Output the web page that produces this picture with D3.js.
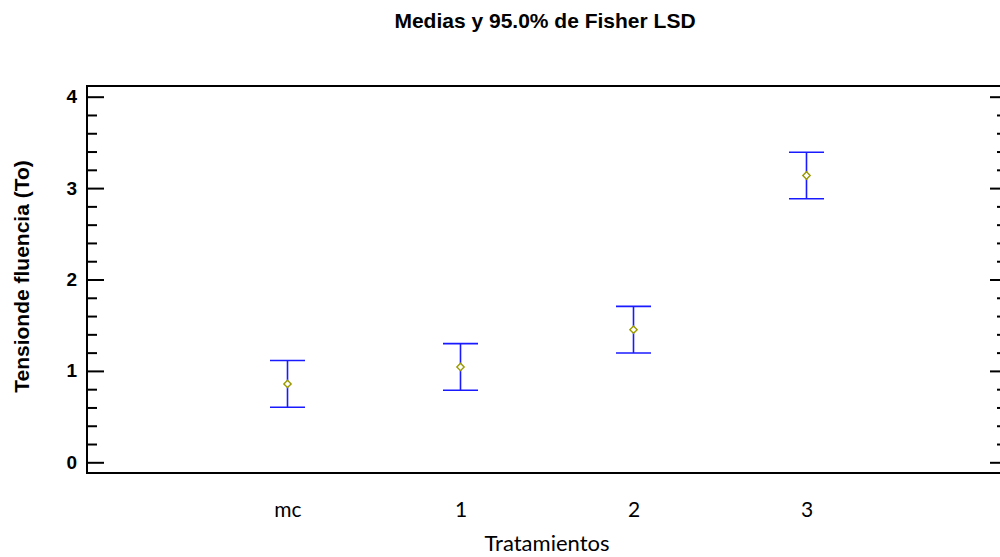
<!DOCTYPE html>
<html>
<head>
<meta charset="utf-8">
<script src="https://cdn.jsdelivr.net/npm/d3@7"></script>
<style>
  html, body { margin: 0; padding: 0; background: #fff; }
  svg { display: block; }
</style>
</head>
<body>
<svg id="chart" width="1000" height="557"></svg>
<script>
// ---- data ----
const categories = ["mc", "1", "2", "3"];
const means = [0.858, 1.043, 1.451, 3.138];
const lower = [0.603, 0.788, 1.196, 2.883];
const upper = [1.113, 1.298, 1.706, 3.393];
const yMajorTicks = [0, 1, 2, 3, 4];
const yMinorTicks = [0.2, 0.4, 0.6, 0.8, 1.2, 1.4, 1.6, 1.8, 2.2, 2.4, 2.6, 2.8, 3.2, 3.4, 3.6, 3.8];
const titleText = "Medias y 95.0% de Fisher LSD";
const xTitle = "Tratamientos";
const yTitle = "Tensionde fluencia (To)";

(function () {
// ---- layout ----
const pL = 87, pR = 1007, pT = 86, pB = 473;
const svg = d3.select("#chart");

const x = d3.scalePoint().domain(categories).range([pL, pR]).padding(1.159);
const y = d3.scaleLinear().domain([-0.117, 4.117]).range([pB, pT]);

// minor ticks left/right
svg.append("g").attr("transform", `translate(${pL},0)`)
  .call(d3.axisLeft(y).tickValues(yMinorTicks).tickSize(-10).tickFormat(""))
  .call(g => g.select(".domain").remove())
  .call(g => g.selectAll("line").attr("stroke", "#000").attr("stroke-width", 2));
svg.append("g").attr("transform", `translate(${pR},0)`)
  .call(d3.axisRight(y).tickValues(yMinorTicks).tickSize(-10).tickFormat(""))
  .call(g => g.select(".domain").remove())
  .call(g => g.selectAll("line").attr("stroke", "#000").attr("stroke-width", 2));

// major ticks
svg.append("g").attr("transform", `translate(${pL},0)`)
  .call(d3.axisLeft(y).tickValues(yMajorTicks).tickSize(-17).tickPadding(10).tickFormat(d3.format("d")))
  .call(g => g.select(".domain").remove())
  .call(g => g.selectAll("line").attr("stroke", "#000").attr("stroke-width", 2))
  .call(g => g.selectAll("text")
    .attr("fill", "#000")
    .style("font-family", "'Liberation Sans', Arial, sans-serif")
    .style("font-weight", "bold")
    .style("font-size", "19px"));
svg.append("g").attr("transform", `translate(${pR},0)`)
  .call(d3.axisRight(y).tickValues(yMajorTicks).tickSize(-17).tickFormat(""))
  .call(g => g.select(".domain").remove())
  .call(g => g.selectAll("line").attr("stroke", "#000").attr("stroke-width", 2));

// frame
svg.append("rect")
  .attr("x", pL).attr("y", pT)
  .attr("width", pR - pL).attr("height", pB - pT)
  .attr("fill", "none").attr("stroke", "#000").attr("stroke-width", 2);

// x tick labels
svg.append("g").attr("transform", `translate(0,${pB})`)
  .call(d3.axisBottom(x).tickSize(0).tickPadding(29))
  .call(g => g.select(".domain").remove())
  .call(g => g.selectAll("text")
    .attr("fill", "#000")
    .style("font-family", "Lato, 'Open Sans', sans-serif")
    .style("font-size", "21px"));

// error bars
const capHalf = 17.5;
const bars = svg.append("g").selectAll("g").data(categories).join("g");
bars.append("line")
  .attr("x1", d => x(d)).attr("x2", d => x(d))
  .attr("y1", (d, i) => y(lower[i])).attr("y2", (d, i) => y(upper[i]))
  .attr("stroke", "#1a1aff").attr("stroke-width", 1.6);
bars.append("line")
  .attr("x1", d => x(d) - capHalf).attr("x2", d => x(d) + capHalf)
  .attr("y1", (d, i) => y(upper[i])).attr("y2", (d, i) => y(upper[i]))
  .attr("stroke", "#1a1aff").attr("stroke-width", 1.6);
bars.append("line")
  .attr("x1", d => x(d) - capHalf).attr("x2", d => x(d) + capHalf)
  .attr("y1", (d, i) => y(lower[i])).attr("y2", (d, i) => y(lower[i]))
  .attr("stroke", "#1a1aff").attr("stroke-width", 1.6);

// mean markers (diamonds)
const diamond = d3.symbol().type(d3.symbolDiamond2).size(34);
svg.append("g").selectAll("path").data(categories).join("path")
  .attr("d", diamond)
  .attr("transform", (d, i) => `translate(${x(d)},${y(means[i])})`)
  .attr("fill", "#fff").attr("stroke", "#9a9a00").attr("stroke-width", 1.4);

// titles
svg.append("text")
  .attr("x", 545).attr("y", 28)
  .attr("text-anchor", "middle")
  .style("font-family", "'Liberation Sans', Arial, sans-serif")
  .style("font-weight", "bold").style("font-size", "21px")
  .text(titleText);

svg.append("text")
  .attr("x", (pL + pR) / 2).attr("y", 551)
  .attr("text-anchor", "middle")
  .style("font-family", "Lato, 'Open Sans', sans-serif")
  .style("font-size", "22px")
  .text(xTitle);

svg.append("text")
  .attr("transform", `translate(29,${(pT + pB) / 2 - 3}) rotate(-90)`)
  .attr("text-anchor", "middle")
  .style("font-family", "'Liberation Sans', Arial, sans-serif")
  .style("font-weight", "bold").style("font-size", "21px")
  .text(yTitle);
})();
</script>
</body>
</html>
